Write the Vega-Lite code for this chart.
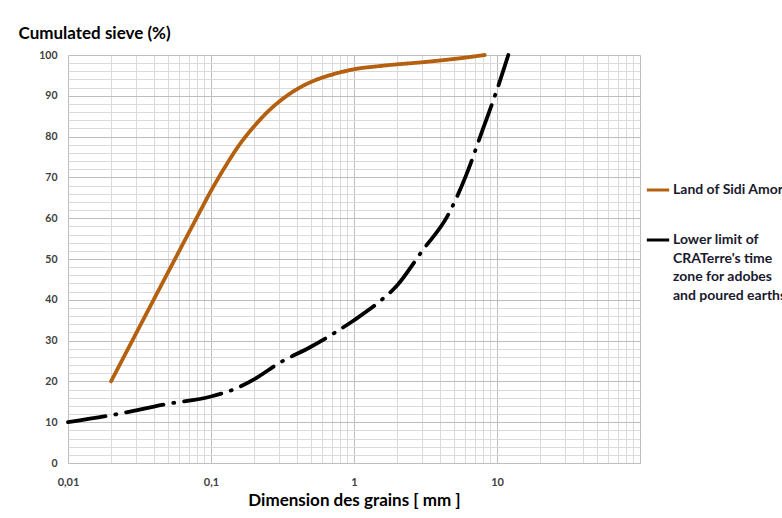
{
  "$schema": "https://vega.github.io/schema/vega-lite/v6.json",
  "width": 572,
  "height": 408,
  "autosize": "none",
  "padding": {"left": 68, "top": 55, "right": 142, "bottom": 55},
  "background": "white",
  "config": {
    "font": "Lato",
    "view": {"stroke": null},
    "style": {"guide-label": {"lineHeight": 18.5}}
  },
  "data": {
    "values": [
      {"d": 0.02, "v": 20, "series": "Land of Sidi Amor"},
      {"d": 0.05, "v": 46.7, "series": "Land of Sidi Amor"},
      {"d": 0.0794, "v": 60.1, "series": "Land of Sidi Amor"},
      {"d": 0.1, "v": 66.7, "series": "Land of Sidi Amor"},
      {"d": 0.126, "v": 72.7, "series": "Land of Sidi Amor"},
      {"d": 0.158, "v": 78.0, "series": "Land of Sidi Amor"},
      {"d": 0.2, "v": 82.5, "series": "Land of Sidi Amor"},
      {"d": 0.251, "v": 86.2, "series": "Land of Sidi Amor"},
      {"d": 0.316, "v": 89.2, "series": "Land of Sidi Amor"},
      {"d": 0.398, "v": 91.6, "series": "Land of Sidi Amor"},
      {"d": 0.501, "v": 93.4, "series": "Land of Sidi Amor"},
      {"d": 0.631, "v": 94.7, "series": "Land of Sidi Amor"},
      {"d": 0.794, "v": 95.7, "series": "Land of Sidi Amor"},
      {"d": 1.0, "v": 96.5, "series": "Land of Sidi Amor"},
      {"d": 1.52, "v": 97.3, "series": "Land of Sidi Amor"},
      {"d": 3.4, "v": 98.4, "series": "Land of Sidi Amor"},
      {"d": 5.5, "v": 99.2, "series": "Land of Sidi Amor"},
      {"d": 8.2, "v": 100, "series": "Land of Sidi Amor"},
      {"d": 0.01, "v": 10, "series": "Lower limit"},
      {"d": 0.02, "v": 11.7, "series": "Lower limit"},
      {"d": 0.05, "v": 14.5, "series": "Lower limit"},
      {"d": 0.1, "v": 16.3, "series": "Lower limit"},
      {"d": 0.15, "v": 18.3, "series": "Lower limit"},
      {"d": 0.2, "v": 20.5, "series": "Lower limit"},
      {"d": 0.3, "v": 24.5, "series": "Lower limit"},
      {"d": 0.5, "v": 28.5, "series": "Lower limit"},
      {"d": 0.7, "v": 31.5, "series": "Lower limit"},
      {"d": 1, "v": 35, "series": "Lower limit"},
      {"d": 1.5, "v": 39.5, "series": "Lower limit"},
      {"d": 2, "v": 43.5, "series": "Lower limit"},
      {"d": 3, "v": 52, "series": "Lower limit"},
      {"d": 4.5, "v": 60.5, "series": "Lower limit"},
      {"d": 6, "v": 70, "series": "Lower limit"},
      {"d": 8, "v": 82, "series": "Lower limit"},
      {"d": 10, "v": 91.5, "series": "Lower limit"},
      {"d": 12, "v": 100, "series": "Lower limit"}
    ]
  },
  "mark": {"type": "line", "interpolate": "monotone", "strokeWidth": 3.8, "strokeCap": "round"},
  "encoding": {
    "x": {
      "field": "d",
      "type": "quantitative",
      "scale": {"type": "log", "domain": [0.01, 100], "nice": false},
      "axis": {
        "title": "Dimension des grains  [ mm ]",
        "titleFontSize": 17,
        "titleFontWeight": "bold",
        "titleColor": "#000000",
        "titlePadding": 5,
        "values": [0.01,0.02,0.03,0.04,0.05,0.06,0.07,0.08,0.09,0.1,0.2,0.3,0.4,0.5,0.6,0.7,0.8,0.9,1,2,3,4,5,6,7,8,9,10,20,30,40,50,60,70,80,90,100],
        "labelExpr": "datum.value == 0.01 ? '0,01' : datum.value == 0.1 ? '0,1' : datum.value == 1 ? '1' : datum.value == 10 ? '10' : ''",
        "labelFontSize": 11,
        "labelFontWeight": "bold",
        "labelColor": "#404040",
        "labelPadding": 13,
        "labelFlush": false,
        "labelOverlap": false,
        "ticks": false,
        "domainColor": "#bfbfbf",
        "grid": true,
        "gridColor": {"condition": {"test": "indexof([0.01,0.1,1,10,100], datum.value) >= 0", "value": "#bdbdbd"}, "value": "#dadada"},
        "gridWidth": 1
      }
    },
    "y": {
      "field": "v",
      "type": "quantitative",
      "scale": {"domain": [0, 100], "nice": false},
      "axis": {
        "title": "Cumulated sieve (%)",
        "titleAngle": 0,
        "titleAlign": "left",
        "titleBaseline": "alphabetic",
        "titleX": -50,
        "titleY": -17,
        "titleFontSize": 17,
        "titleFontWeight": "bold",
        "titleColor": "#000000",
        "values": [0,2,4,6,8,10,12,14,16,18,20,22,24,26,28,30,32,34,36,38,40,42,44,46,48,50,52,54,56,58,60,62,64,66,68,70,72,74,76,78,80,82,84,86,88,90,92,94,96,98,100],
        "labelExpr": "datum.value % 10 == 0 ? datum.label : ''",
        "labelFontSize": 10.5,
        "labelFontWeight": "bold",
        "labelColor": "#404040",
        "labelPadding": 11,
        "labelOverlap": false,
        "ticks": false,
        "domain": false,
        "grid": true,
        "gridColor": {"condition": {"test": "datum.value % 10 == 0", "value": "#bdbdbd"}, "value": "#dadada"},
        "gridWidth": 1
      }
    },
    "color": {
      "field": "series",
      "type": "nominal",
      "scale": {"domain": ["Land of Sidi Amor", "Lower limit"], "range": ["#b5600f", "#000000"]},
      "legend": {
        "title": null,
        "orient": "none",
        "legendX": 577,
        "legendY": 122,
        "symbolType": "stroke",
        "symbolStrokeWidth": 3,
        "symbolSize": 500,
        "symbolDash": [1, 0],
        "labelFontSize": 14,
        "labelFontWeight": "bold",
        "labelColor": "#1a1a2e",
        "labelLimit": 300,
        "labelOffset": 2,
        "rowPadding": 30,
        "labelExpr": "datum.label == 'Land of Sidi Amor' ? datum.label : ['Lower limit of', \"CRATerre's time\", 'zone for adobes', 'and poured earths']"
      }
    },
    "strokeDash": {
      "field": "series",
      "type": "nominal",
      "scale": {"domain": ["Land of Sidi Amor", "Lower limit"], "range": [[1, 0], [38, 10, 1, 10]]},
      "legend": null
    }
  }
}
